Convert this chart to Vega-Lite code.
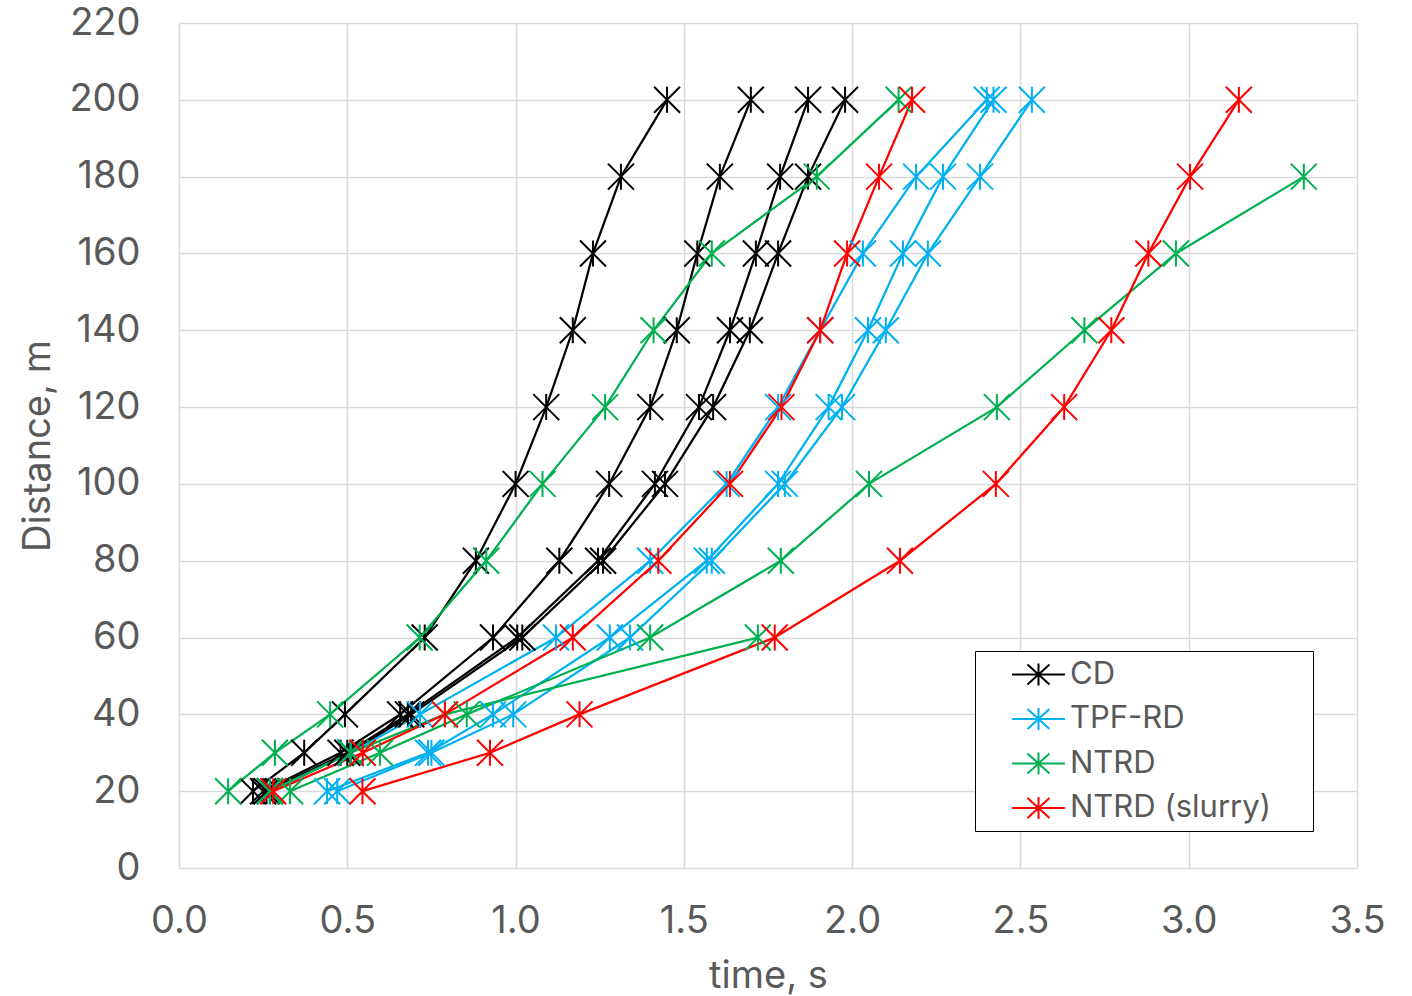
{
  "$schema": "https://vega.github.io/schema/vega-lite/v6.json",
  "width": 1178,
  "height": 845,
  "autosize": {"type": "none"},
  "padding": {"left": 179, "top": 23, "right": 55, "bottom": 128},
  "background": "white",
  "config": {
    "font": "Inter",
    "view": {"stroke": null},
    "axis": {
      "grid": true,
      "gridColor": "#d9d9d9",
      "gridWidth": 1.5,
      "domain": false,
      "ticks": false,
      "labelFlush": false,
      "labelOverlap": false,
      "labelFont": "Inter",
      "labelFontSize": 38,
      "labelColor": "#595959",
      "titleFont": "Inter",
      "titleFontSize": 38,
      "titleFontWeight": "normal",
      "titleColor": "#595959"
    }
  },
  "data": {
    "values": [
      {"run": "CD 1", "method": "CD", "t": 0.22, "d": 20},
      {"run": "CD 1", "method": "CD", "t": 0.372, "d": 30},
      {"run": "CD 1", "method": "CD", "t": 0.493, "d": 40},
      {"run": "CD 1", "method": "CD", "t": 0.73, "d": 60},
      {"run": "CD 1", "method": "CD", "t": 0.882, "d": 80},
      {"run": "CD 1", "method": "CD", "t": 1.0, "d": 100},
      {"run": "CD 1", "method": "CD", "t": 1.091, "d": 120},
      {"run": "CD 1", "method": "CD", "t": 1.17, "d": 140},
      {"run": "CD 1", "method": "CD", "t": 1.23, "d": 160},
      {"run": "CD 1", "method": "CD", "t": 1.313, "d": 180},
      {"run": "CD 1", "method": "CD", "t": 1.45, "d": 200},

      {"run": "CD 2", "method": "CD", "t": 0.25, "d": 20},
      {"run": "CD 2", "method": "CD", "t": 0.48, "d": 30},
      {"run": "CD 2", "method": "CD", "t": 0.657, "d": 40},
      {"run": "CD 2", "method": "CD", "t": 0.933, "d": 60},
      {"run": "CD 2", "method": "CD", "t": 1.13, "d": 80},
      {"run": "CD 2", "method": "CD", "t": 1.278, "d": 100},
      {"run": "CD 2", "method": "CD", "t": 1.4, "d": 120},
      {"run": "CD 2", "method": "CD", "t": 1.479, "d": 140},
      {"run": "CD 2", "method": "CD", "t": 1.54, "d": 160},
      {"run": "CD 2", "method": "CD", "t": 1.607, "d": 180},
      {"run": "CD 2", "method": "CD", "t": 1.699, "d": 200},

      {"run": "CD 3", "method": "CD", "t": 0.26, "d": 20},
      {"run": "CD 3", "method": "CD", "t": 0.5, "d": 30},
      {"run": "CD 3", "method": "CD", "t": 0.68, "d": 40},
      {"run": "CD 3", "method": "CD", "t": 1.005, "d": 60},
      {"run": "CD 3", "method": "CD", "t": 1.245, "d": 80},
      {"run": "CD 3", "method": "CD", "t": 1.414, "d": 100},
      {"run": "CD 3", "method": "CD", "t": 1.545, "d": 120},
      {"run": "CD 3", "method": "CD", "t": 1.637, "d": 140},
      {"run": "CD 3", "method": "CD", "t": 1.714, "d": 160},
      {"run": "CD 3", "method": "CD", "t": 1.786, "d": 180},
      {"run": "CD 3", "method": "CD", "t": 1.869, "d": 200},

      {"run": "CD 4", "method": "CD", "t": 0.27, "d": 20},
      {"run": "CD 4", "method": "CD", "t": 0.51, "d": 30},
      {"run": "CD 4", "method": "CD", "t": 0.69, "d": 40},
      {"run": "CD 4", "method": "CD", "t": 1.02, "d": 60},
      {"run": "CD 4", "method": "CD", "t": 1.26, "d": 80},
      {"run": "CD 4", "method": "CD", "t": 1.444, "d": 100},
      {"run": "CD 4", "method": "CD", "t": 1.587, "d": 120},
      {"run": "CD 4", "method": "CD", "t": 1.696, "d": 140},
      {"run": "CD 4", "method": "CD", "t": 1.78, "d": 160},
      {"run": "CD 4", "method": "CD", "t": 1.869, "d": 180},
      {"run": "CD 4", "method": "CD", "t": 1.979, "d": 200},

      {"run": "TPF-RD 1", "method": "TPF-RD", "t": 0.27, "d": 20},
      {"run": "TPF-RD 1", "method": "TPF-RD", "t": 0.51, "d": 30},
      {"run": "TPF-RD 1", "method": "TPF-RD", "t": 0.716, "d": 40},
      {"run": "TPF-RD 1", "method": "TPF-RD", "t": 1.12, "d": 60},
      {"run": "TPF-RD 1", "method": "TPF-RD", "t": 1.4, "d": 80},
      {"run": "TPF-RD 1", "method": "TPF-RD", "t": 1.627, "d": 100},
      {"run": "TPF-RD 1", "method": "TPF-RD", "t": 1.78, "d": 120},
      {"run": "TPF-RD 1", "method": "TPF-RD", "t": 1.905, "d": 140},
      {"run": "TPF-RD 1", "method": "TPF-RD", "t": 2.032, "d": 160},
      {"run": "TPF-RD 1", "method": "TPF-RD", "t": 2.19, "d": 180},
      {"run": "TPF-RD 1", "method": "TPF-RD", "t": 2.4, "d": 200},

      {"run": "TPF-RD 2", "method": "TPF-RD", "t": 0.44, "d": 20},
      {"run": "TPF-RD 2", "method": "TPF-RD", "t": 0.74, "d": 30},
      {"run": "TPF-RD 2", "method": "TPF-RD", "t": 0.933, "d": 40},
      {"run": "TPF-RD 2", "method": "TPF-RD", "t": 1.28, "d": 60},
      {"run": "TPF-RD 2", "method": "TPF-RD", "t": 1.568, "d": 80},
      {"run": "TPF-RD 2", "method": "TPF-RD", "t": 1.78, "d": 100},
      {"run": "TPF-RD 2", "method": "TPF-RD", "t": 1.93, "d": 120},
      {"run": "TPF-RD 2", "method": "TPF-RD", "t": 2.047, "d": 140},
      {"run": "TPF-RD 2", "method": "TPF-RD", "t": 2.151, "d": 160},
      {"run": "TPF-RD 2", "method": "TPF-RD", "t": 2.27, "d": 180},
      {"run": "TPF-RD 2", "method": "TPF-RD", "t": 2.42, "d": 200},

      {"run": "TPF-RD 3", "method": "TPF-RD", "t": 0.47, "d": 20},
      {"run": "TPF-RD 3", "method": "TPF-RD", "t": 0.75, "d": 30},
      {"run": "TPF-RD 3", "method": "TPF-RD", "t": 0.993, "d": 40},
      {"run": "TPF-RD 3", "method": "TPF-RD", "t": 1.34, "d": 60},
      {"run": "TPF-RD 3", "method": "TPF-RD", "t": 1.583, "d": 80},
      {"run": "TPF-RD 3", "method": "TPF-RD", "t": 1.8, "d": 100},
      {"run": "TPF-RD 3", "method": "TPF-RD", "t": 1.97, "d": 120},
      {"run": "TPF-RD 3", "method": "TPF-RD", "t": 2.1, "d": 140},
      {"run": "TPF-RD 3", "method": "TPF-RD", "t": 2.225, "d": 160},
      {"run": "TPF-RD 3", "method": "TPF-RD", "t": 2.38, "d": 180},
      {"run": "TPF-RD 3", "method": "TPF-RD", "t": 2.534, "d": 200},

      {"run": "NTRD 1", "method": "NTRD", "t": 0.146, "d": 20},
      {"run": "NTRD 1", "method": "NTRD", "t": 0.285, "d": 30},
      {"run": "NTRD 1", "method": "NTRD", "t": 0.449, "d": 40},
      {"run": "NTRD 1", "method": "NTRD", "t": 0.715, "d": 60},
      {"run": "NTRD 1", "method": "NTRD", "t": 0.913, "d": 80},
      {"run": "NTRD 1", "method": "NTRD", "t": 1.08, "d": 100},
      {"run": "NTRD 1", "method": "NTRD", "t": 1.266, "d": 120},
      {"run": "NTRD 1", "method": "NTRD", "t": 1.41, "d": 140},
      {"run": "NTRD 1", "method": "NTRD", "t": 1.583, "d": 160},
      {"run": "NTRD 1", "method": "NTRD", "t": 1.895, "d": 180},
      {"run": "NTRD 1", "method": "NTRD", "t": 2.138, "d": 200},

      {"run": "NTRD 2", "method": "NTRD", "t": 0.33, "d": 20},
      {"run": "NTRD 2", "method": "NTRD", "t": 0.597, "d": 30},
      {"run": "NTRD 2", "method": "NTRD", "t": 0.855, "d": 40},
      {"run": "NTRD 2", "method": "NTRD", "t": 1.4, "d": 60},
      {"run": "NTRD 2", "method": "NTRD", "t": 1.788, "d": 80},
      {"run": "NTRD 2", "method": "NTRD", "t": 2.05, "d": 100},
      {"run": "NTRD 2", "method": "NTRD", "t": 2.43, "d": 120},
      {"run": "NTRD 2", "method": "NTRD", "t": 2.69, "d": 140},
      {"run": "NTRD 2", "method": "NTRD", "t": 2.962, "d": 160},
      {"run": "NTRD 2", "method": "NTRD", "t": 3.342, "d": 180},

      {"run": "NTRD 3", "method": "NTRD", "t": 0.27, "d": 20},
      {"run": "NTRD 3", "method": "NTRD", "t": 0.51, "d": 30},
      {"run": "NTRD 3", "method": "NTRD", "t": 0.79, "d": 40},
      {"run": "NTRD 3", "method": "NTRD", "t": 1.72, "d": 60},

      {"run": "NTRD (slurry) 1", "method": "NTRD (slurry)", "t": 0.28, "d": 20},
      {"run": "NTRD (slurry) 1", "method": "NTRD (slurry)", "t": 0.546, "d": 30},
      {"run": "NTRD (slurry) 1", "method": "NTRD (slurry)", "t": 0.79, "d": 40},
      {"run": "NTRD (slurry) 1", "method": "NTRD (slurry)", "t": 1.17, "d": 60},
      {"run": "NTRD (slurry) 1", "method": "NTRD (slurry)", "t": 1.424, "d": 80},
      {"run": "NTRD (slurry) 1", "method": "NTRD (slurry)", "t": 1.637, "d": 100},
      {"run": "NTRD (slurry) 1", "method": "NTRD (slurry)", "t": 1.79, "d": 120},
      {"run": "NTRD (slurry) 1", "method": "NTRD (slurry)", "t": 1.905, "d": 140},
      {"run": "NTRD (slurry) 1", "method": "NTRD (slurry)", "t": 1.985, "d": 160},
      {"run": "NTRD (slurry) 1", "method": "NTRD (slurry)", "t": 2.08, "d": 180},
      {"run": "NTRD (slurry) 1", "method": "NTRD (slurry)", "t": 2.178, "d": 200},

      {"run": "NTRD (slurry) 2", "method": "NTRD (slurry)", "t": 0.545, "d": 20},
      {"run": "NTRD (slurry) 2", "method": "NTRD (slurry)", "t": 0.924, "d": 30},
      {"run": "NTRD (slurry) 2", "method": "NTRD (slurry)", "t": 1.19, "d": 40},
      {"run": "NTRD (slurry) 2", "method": "NTRD (slurry)", "t": 1.77, "d": 60},
      {"run": "NTRD (slurry) 2", "method": "NTRD (slurry)", "t": 2.142, "d": 80},
      {"run": "NTRD (slurry) 2", "method": "NTRD (slurry)", "t": 2.427, "d": 100},
      {"run": "NTRD (slurry) 2", "method": "NTRD (slurry)", "t": 2.63, "d": 120},
      {"run": "NTRD (slurry) 2", "method": "NTRD (slurry)", "t": 2.77, "d": 140},
      {"run": "NTRD (slurry) 2", "method": "NTRD (slurry)", "t": 2.88, "d": 160},
      {"run": "NTRD (slurry) 2", "method": "NTRD (slurry)", "t": 3.004, "d": 180},
      {"run": "NTRD (slurry) 2", "method": "NTRD (slurry)", "t": 3.149, "d": 200}
    ]
  },
  "encoding": {
    "x": {
      "field": "t",
      "type": "quantitative",
      "title": "time, s",
      "scale": {"domain": [0, 3.5], "nice": false, "zero": true},
      "axis": {
        "values": [0, 0.5, 1, 1.5, 2, 2.5, 3, 3.5],
        "format": ".1f",
        "labelPadding": 34,
        "titlePadding": 17
      }
    },
    "y": {
      "field": "d",
      "type": "quantitative",
      "title": "Distance, m",
      "scale": {"domain": [0, 220], "nice": false},
      "axis": {
        "values": [0, 20, 40, 60, 80, 100, 120, 140, 160, 180, 200, 220],
        "labelPadding": 39,
        "titlePadding": 11
      }
    },
    "color": {
      "field": "method",
      "type": "nominal",
      "scale": {
        "domain": ["CD", "TPF-RD", "NTRD", "NTRD (slurry)"],
        "range": ["#000000", "#00B0F0", "#00B050", "#FF0000"]
      },
      "legend": {
        "title": null,
        "orient": "none",
        "legendX": 796,
        "legendY": 628,
        "padding": 8,
        "strokeColor": "#000000",
        "fillColor": "#ffffff",
        "symbolType": "M-2.4,0L2.4,0M0,-1L0,1M-1,-0.9L1,0.9M-1,0.9L1,-0.9M23.8,0",
        "symbolSize": 484,
        "symbolStrokeWidth": 2,
        "symbolOffset": 40,
        "labelOffset": 16,
        "labelLimit": 400,
        "labelFont": "Inter",
        "labelFontSize": 31,
        "labelColor": "#595959",
        "rowPadding": 12.5
      }
    }
  },
  "layer": [
    {
      "mark": {"type": "line", "strokeWidth": 2.25},
      "encoding": {
        "detail": {"field": "run", "type": "nominal"},
        "order": {"field": "d", "type": "quantitative"}
      }
    },
    {
      "mark": {
        "type": "point",
        "shape": "M0,-1L0,1M-1,-1L1,1M-1,1L1,-1",
        "size": 676,
        "filled": false,
        "strokeWidth": 2,
        "opacity": 1
      },
      "encoding": {
        "detail": {"field": "run", "type": "nominal"}
      }
    }
  ]
}
